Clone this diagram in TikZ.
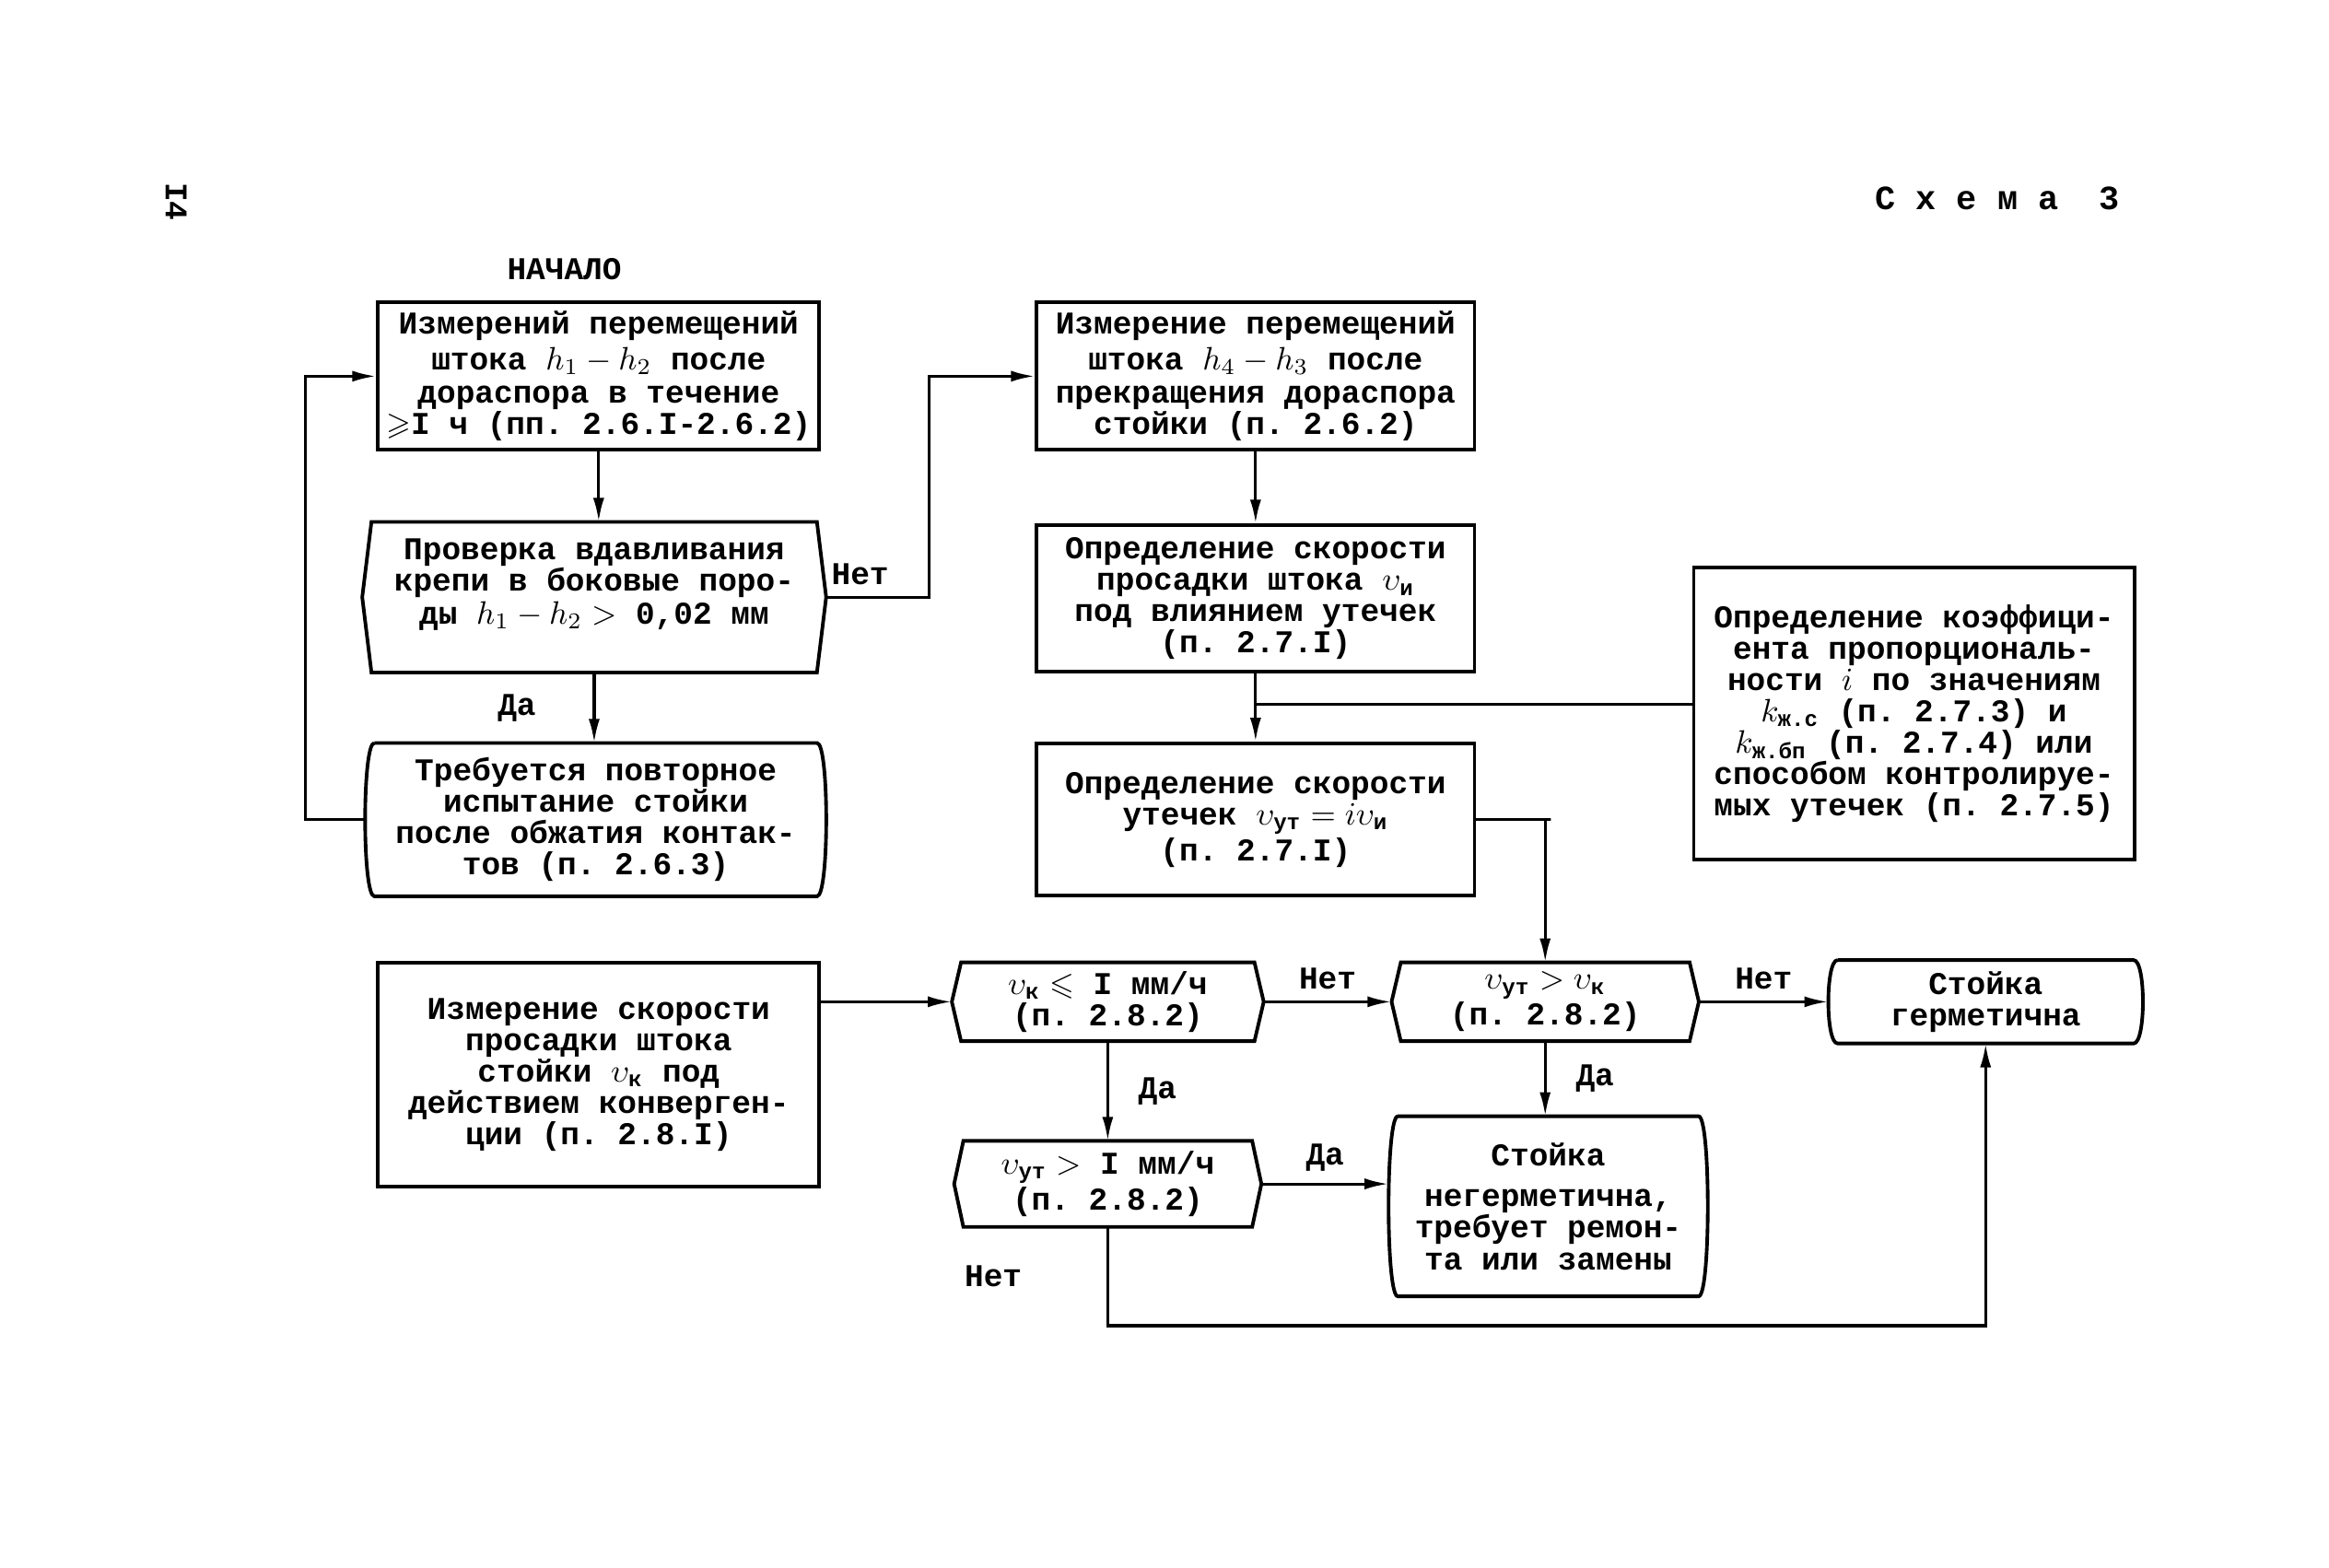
\documentclass[tikz,border=0pt]{standalone}
\usepackage{amsmath}
\usepackage{amssymb}
\usepackage{fontspec}
\setmonofont{Liberation Mono}
\usetikzlibrary{arrows.meta}

\tikzset{
  every node/.style={font=\ttfamily\bfseries\fontsize{9.8pt}{9.7pt}\selectfont},
  block/.style={draw, line width=1.1pt, align=center, inner sep=0.5mm},
  decis/.style={align=center, inner sep=0.5mm},
  term/.style={align=center, inner sep=0.5mm},
  arr/.style={line width=0.9pt, -{Latex[length=2.6mm,width=1.2mm]}},
  wire/.style={line width=0.9pt},
}

\begin{document}
\begin{tikzpicture}[x=0.162mm, y=-0.162mm]
    \useasboundingbox (0,0) rectangle (1560,1050);

    % Header
    \node[rotate=-90] (page) at (118,135) {I4};
    \node[font=\ttfamily\bfseries\fontsize{10.5pt}{10pt}\selectfont] (title) at (1338,133) {С~х~е~м~а~~3};
    \node (start) at (378,180) {НАЧАЛО};

    % Left column
    \node[block, minimum width=47.9mm, minimum height=16mm] (a1) at (401,252) {Измерений перемещений\\[1.2pt]штока $h_1-h_2$ после\\[0.6pt]дораспора в течение\\$\geqslant$I ч (пп. 2.6.I-2.6.2)};
    \node[decis, minimum width=50.2mm, minimum height=16.2mm] (chk) at (398,400) {Проверка вдавливания\\крепи в боковые поро-\\[0.6pt]ды $h_1 - h_2 >$ 0,02 мм\\~};
    \node[term, minimum width=49.9mm, minimum height=16.5mm] (rep) at (399,549) {Требуется повторное\\испытание стойки\\после обжатия контак-\\тов (п. 2.6.3)};

    % Middle column
    \node[block, minimum width=47.5mm, minimum height=16mm] (b1) at (841,252) {Измерение перемещений\\[1.2pt]штока $h_4 - h_3$ после\\[0.6pt]прекращения дораспора\\стойки (п. 2.6.2)};
    \node[block, minimum width=47.5mm, minimum height=15.9mm] (b2) at (841,401) {Определение скорости\\просадки штока $\upsilon_{\text{и}}$\\под влиянием утечек\\(п. 2.7.I)};
    \node[block, minimum width=47.5mm, minimum height=16.5mm] (b3) at (841,549) {Определение скорости\\утечек $\upsilon_{\text{ут}} = i\upsilon_{\text{и}}$\\(п. 2.7.I)};

    % Right box
    \node[block, minimum width=47.8mm, minimum height=31.7mm] (coef) at (1282,478) {Определение коэффици-\\ента пропорциональ-\\ности $i$ по значениям\\$k_{\text{ж.с}}$ (п. 2.7.3) и\\$k_{\text{ж.бп}}$ (п. 2.7.4) или\\способом контролируе-\\мых утечек (п. 2.7.5)};

    % Lower part
    \node[block, minimum width=47.9mm, minimum height=24.3mm] (conv) at (401,720) {Измерение скорости\\просадки штока\\стойки $\upsilon_{\text{к}}$ под\\действием конверген-\\ции (п. 2.8.I)};
    \node[decis, minimum width=33.7mm, minimum height=8.4mm] (vk) at (742,671) {$\upsilon_{\text{к}} \leqslant$ I мм/ч\\(п. 2.8.2)};
    \node[decis, minimum width=33.2mm, minimum height=8.4mm] (vyk) at (1035,671) {$\upsilon_{\text{ут}} > \upsilon_{\text{к}}$\\(п. 2.8.2)};
    \node[decis, minimum width=33.2mm, minimum height=9.2mm] (vyt) at (742,793) {$\upsilon_{\text{ут}} >$ I мм/ч\\(п. 2.8.2)};
    \node[term, minimum width=34mm, minimum height=8.9mm] (herm) at (1330,671) {Стойка\\герметична};
    \node[term, minimum width=34.5mm, minimum height=19.4mm] (nonherm) at (1037,808) {Стойка\\[3pt]негерметична,\\требует ремон-\\та или замены};
    \coordinate (low) at (745,888);
    \coordinate (br) at (841,472);

    % Outlines of the decision and end shapes
    \foreach \n in {chk,vk,vyk,vyt}
        \draw[line width=1.1pt] ([xshift=1mm]\n.north west) -- ([xshift=-1mm]\n.north east) -- (\n.east)
            -- ([xshift=-1mm]\n.south east) -- ([xshift=1mm]\n.south west) -- (\n.west) -- cycle;
    \foreach \n in {rep,herm,nonherm}
        \draw[line width=1.1pt] ([xshift=1mm]\n.north west) -- ([xshift=-1mm]\n.north east)
            .. controls ([xshift=0.33mm]\n.north east) and ([xshift=0.33mm]\n.south east) .. ([xshift=-1mm]\n.south east)
            -- ([xshift=1mm]\n.south west)
            .. controls ([xshift=-0.33mm]\n.south west) and ([xshift=-0.33mm]\n.north west) .. ([xshift=1mm]\n.north west);

    % Connectors
    \draw[arr] (a1) -- (a1 |- chk.north);
    \draw[arr] (chk) -- node[left=5mm] {Да} (chk |- rep.north);
    \draw[arr] (rep.west) -- ++(-40,0) |- (a1.west);
    \draw[arr] (chk.east) -- node[pos=0.33, above] {Нет} ++(69,0) |- (b1.west);
    \draw[arr] (b1) -- (b2);
    \draw[arr] (b2) -- (b3);
    \draw[wire] (br) -- (br -| coef.west);
    \draw[arr] (b3.east) -- ++(50,0) -| (vyk.north);
    \draw[arr] (conv.east |- vk.west) -- (vk.west);
    \draw[arr] (vk.east) -- node[above] {Нет} (vyk.west);
    \draw[arr] (vyk.east) -- node[above] {Нет} (herm.west);
    \draw[arr] (vyk.south) -- node[right=2mm] {Да} (vyk.south |- nonherm.north);
    \draw[arr] (vk.south) -- node[right=2mm] {Да} (vk.south |- vyt.north);
    \draw[arr] (vyt.east) -- node[above] {Да} (vyt.east -| nonherm.west);
    \draw[arr] (vyt.south) -- node[left=8mm] {Нет} (vyt.south |- low) -| (herm.south);
\end{tikzpicture}
\end{document}
